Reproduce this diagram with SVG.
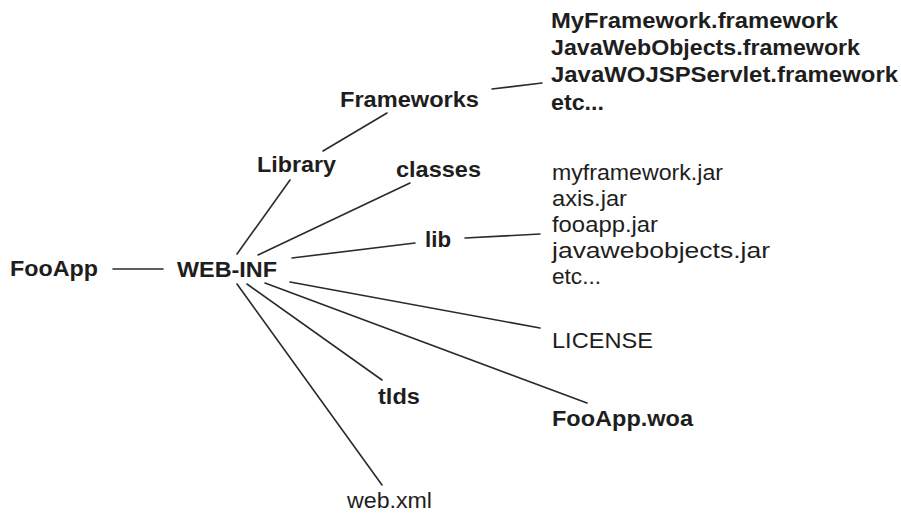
<svg xmlns="http://www.w3.org/2000/svg" width="901" height="514" viewBox="0 0 901 514">
  <style>
    text { font-family: "Liberation Sans", Arial, Helvetica, sans-serif; font-size: 22px; fill: #1e1e1e; }
    .b { font-weight: bold; }
    .edge { stroke: #2a2a2a; stroke-width: 1.6; stroke-linecap: round; fill: none; }
  </style>
  <rect width="901" height="514" fill="#ffffff"/>

  <!-- connectors -->
  <g id="connectors">
    <line class="edge" x1="113" y1="269" x2="163" y2="269"/>
    <line class="edge" x1="237" y1="254" x2="290" y2="180"/>
    <line class="edge" x1="323" y1="151" x2="387" y2="113"/>
    <line class="edge" x1="492" y1="89" x2="542" y2="83"/>
    <line class="edge" x1="258" y1="255" x2="410" y2="183"/>
    <line class="edge" x1="292" y1="258" x2="415" y2="243"/>
    <line class="edge" x1="465" y1="238" x2="540" y2="234"/>
    <line class="edge" x1="290" y1="282" x2="540" y2="328"/>
    <line class="edge" x1="265" y1="283" x2="587" y2="403"/>
    <line class="edge" x1="247" y1="284" x2="382" y2="380"/>
    <line class="edge" x1="237" y1="284" x2="382" y2="485"/>
  </g>

  <!-- nodes -->
  <g id="fooapp"><text class="b" x="10" y="276" textLength="88" lengthAdjust="spacingAndGlyphs">FooApp</text></g>
  <g id="web-inf"><text class="b" x="177" y="277" textLength="100" lengthAdjust="spacingAndGlyphs">WEB-INF</text></g>
  <g id="library"><text class="b" x="257" y="172" textLength="79" lengthAdjust="spacingAndGlyphs">Library</text></g>
  <g id="frameworks"><text class="b" x="340" y="107" textLength="139" lengthAdjust="spacingAndGlyphs">Frameworks</text></g>
  <g id="classes"><text class="b" x="396" y="177" textLength="85" lengthAdjust="spacingAndGlyphs">classes</text></g>
  <g id="lib"><text class="b" x="425" y="247" textLength="26" lengthAdjust="spacingAndGlyphs">lib</text></g>
  <g id="tlds"><text class="b" x="378" y="404" textLength="42" lengthAdjust="spacingAndGlyphs">tlds</text></g>
  <g id="web-xml"><text x="347" y="508" textLength="85" lengthAdjust="spacingAndGlyphs">web.xml</text></g>
  <g id="license"><text x="552" y="348" textLength="101" lengthAdjust="spacingAndGlyphs">LICENSE</text></g>
  <g id="fooapp-woa"><text class="b" x="552" y="426" textLength="141" lengthAdjust="spacingAndGlyphs">FooApp.woa</text></g>

  <g id="framework-list">
    <text class="b" x="551" y="28" textLength="287" lengthAdjust="spacingAndGlyphs">MyFramework.framework</text>
    <text class="b" x="551" y="55" textLength="309" lengthAdjust="spacingAndGlyphs">JavaWebObjects.framework</text>
    <text class="b" x="551" y="82" textLength="347" lengthAdjust="spacingAndGlyphs">JavaWOJSPServlet.framework</text>
    <text class="b" x="551" y="110" textLength="53" lengthAdjust="spacingAndGlyphs">etc...</text>
  </g>

  <g id="jar-list">
    <text x="552" y="180" textLength="171" lengthAdjust="spacingAndGlyphs">myframework.jar</text>
    <text x="552" y="206" textLength="75" lengthAdjust="spacingAndGlyphs">axis.jar</text>
    <text x="552" y="232" textLength="106" lengthAdjust="spacingAndGlyphs">fooapp.jar</text>
    <text x="552" y="258" textLength="218" lengthAdjust="spacingAndGlyphs">javawebobjects.jar</text>
    <text x="552" y="284" textLength="49" lengthAdjust="spacingAndGlyphs">etc...</text>
  </g>
</svg>
